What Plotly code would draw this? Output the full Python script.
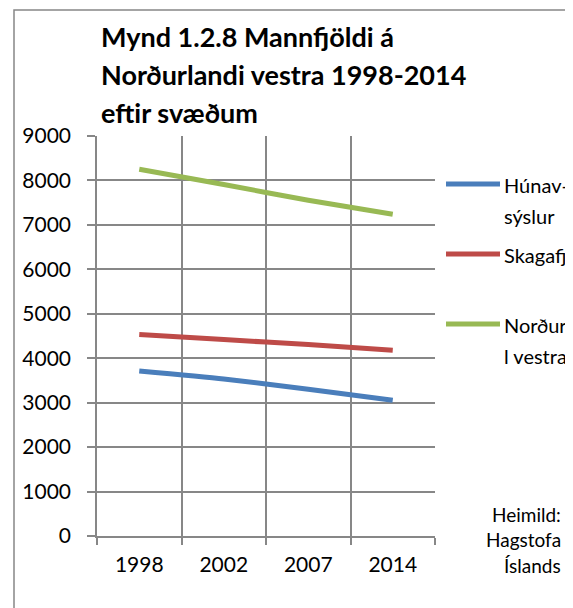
import plotly.graph_objects as go

YEARS = ["1998", "2002", "2007", "2014"]
HUNAV = [3713, 3533, 3301, 3053]
SKAGAFJ = [4531, 4419, 4306, 4178]
NORDURL = [8251, 7907, 7556, 7239]

SERIES = [
    (["Húnav-", "sýslur"], HUNAV, "#4A7EBB"),
    (["Skagafj"], SKAGAFJ, "#BE4B48"),
    (["Norður", "l vestra"], NORDURL, "#98B954"),
]
TITLE_LINES = ["Mynd 1.2.8 Mannfjöldi á", "Norðurlandi vestra 1998-2014", "eftir svæðum"]
SOURCE_LINES = ["Heimild:", "Hagstofa", "Íslands"]

FONT = "Lato"
GRID = "#878787"

# the page body has an 8px margin, so the figure starts at (8, 8) in the window
OFF = 8
W, H = 573 - OFF, 608 - OFF
# plot-area edges in window pixels
PL, PR, PT, PB = 97, 435, 136, 536


def px(x):
    return (x - PL) / (PR - PL)


def py(y):
    return (PB - y) / (PB - PT)


def text_at(text, x, y_mid, size, anchor="left", bold=False):
    fig.add_annotation(xref="paper", yref="paper", x=px(x), y=py(y_mid),
                       xanchor=anchor, yanchor="middle",
                       text=f"<b>{text}</b>" if bold else text, showarrow=False,
                       font=dict(family=FONT, size=size, color="black"))


fig = go.Figure()
for name, vals, color in SERIES:
    fig.add_trace(go.Scatter(
        x=YEARS, y=vals, mode="lines", name=" ".join(name),
        line=dict(color=color, width=5, shape="spline", smoothing=0.6),
        showlegend=False,
    ))

# hand-placed legend, like Excel's
legend_y = [184, 254, 324]
for (name, vals, color), ly in zip(SERIES, legend_y):
    fig.add_shape(type="line", xref="paper", yref="paper",
                  x0=px(446), x1=px(500), y0=py(ly), y1=py(ly),
                  line=dict(color=color, width=5))
    for i, line in enumerate(name):
        text_at(line, 502, ly + 1 + i * 31, 20)

for i, line in enumerate(SOURCE_LINES):
    text_at(line, 563, 514 + i * 25.5, 19, anchor="right")

for i, line in enumerate(TITLE_LINES):
    text_at(line, 99, 37 + i * 38, 27, bold=True)

# outer chart border (runs off the right and bottom of the picture)
fig.add_shape(type="rect", xref="paper", yref="paper",
              x0=px(14), x1=px(700), y0=py(10), y1=py(700),
              line=dict(color=GRID, width=1.5), layer="below")

fig.update_layout(
    width=W, height=H,
    margin=dict(l=PL - OFF, r=573 - PR, t=PT - OFF, b=608 - PB, autoexpand=False),
    paper_bgcolor="white", plot_bgcolor="white",
    font=dict(family=FONT, color="black"),
    xaxis=dict(
        type="category", tickson="boundaries", range=[-0.5, 3.5],
        showgrid=True, gridcolor=GRID, gridwidth=1.5,
        showline=True, linecolor=GRID, linewidth=1.5, mirror=False,
        ticks="outside", ticklen=7, tickcolor=GRID, tickwidth=1.5,
        tickfont=dict(size=21), ticklabelstandoff=9,
    ),
    yaxis=dict(
        range=[0, 9000], dtick=1000,
        showgrid=True, gridcolor=GRID, gridwidth=1.5,
        showline=True, linecolor=GRID, linewidth=1.5,
        zeroline=False,
        ticks="outside", ticklen=8, tickcolor=GRID, tickwidth=1.5,
        tickfont=dict(size=21), ticklabelstandoff=12,
    ),
)

fig.write_html("out.html")
